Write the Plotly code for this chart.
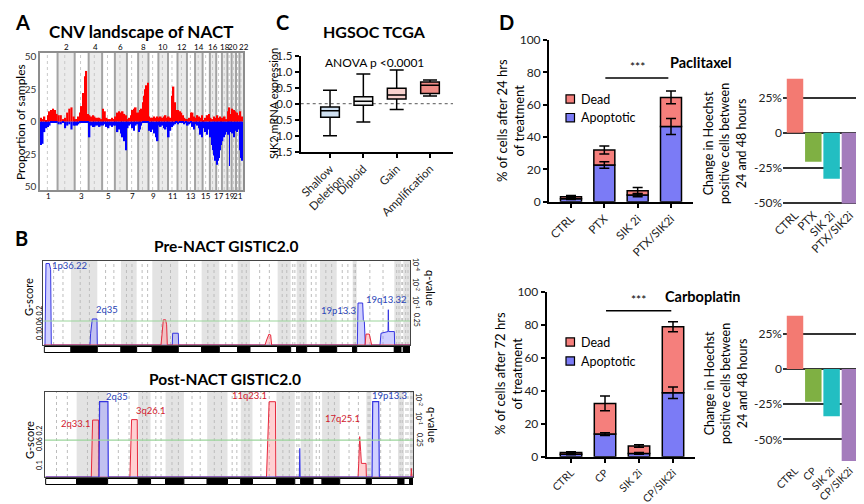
import plotly.graph_objects as go
import numpy as np

# The page body adds an 8px margin, so the figure is 856x496 and every
# reference pixel position is mapped through that offset.
OFF = 8
W, H = 864 - OFF, 504 - OFF
FONT = "Lato, Open Sans, sans-serif"


def fx(x):
    return (x - OFF) / W


def fy(y):
    return 1 - (y - OFF) / H


def xd(a, b):
    return [fx(a), fx(b)]


def yd(top, bot):
    return [fy(bot), fy(top)]


# ---------------- Panel A data: CNV landscape ----------------
chrom_names = [str(i) for i in range(1, 23)]
chrom_len_mb = [249, 243, 198, 191, 181, 171, 159, 146, 141, 136, 135, 134,
                115, 107, 103, 90, 81, 78, 59, 63, 48, 51]
cnv_gain = [
    [3, 2, 4, 1, 5, 8, 9, 10, 9, 6],
    [5, 5, 2, 3, 7, 10, 11, 4],
    [2, 2, 4, 7, 12, 22, 35, 39, 6],
    [5, 4, 5, 4, 3, 3, 3, 2],
    [10, 8, 3, 2, 2, 3, 2],
    [4, 7, 8, 7, 8, 6, 5],
    [2, 3, 5, 9, 10, 11, 7],
    [7, 9, 10, 15, 20, 25, 28, 30],
    [4, 3, 3, 4, 3, 4],
    [3, 4, 3, 4, 5, 3],
    [4, 3, 20, 27, 15, 9],
    [9, 8, 7, 5, 3, 2],
    [2, 3, 7, 7, 4],
    [3, 5, 4, 3, 5],
    [1, 3, 5, 6],
    [3, 2, 4, 3],
    [5, 3, 4, 2],
    [3, 4, 2],
    [8, 11, 6],
    [10, 9, 8],
    [7, 5],
    [8, 4],
]
cnv_loss = [
    [18, 17, 8, 5, 4, 3, 1, 0.5, 0.5, 0.5],
    [2, 2, 0.5, 5, 3, 2, 6, 3],
    [3, 3, 2, 1, 0.5, 0.5, 0.5, 0.5, 0.5],
    [12, 3, 4, 4, 3, 3, 4, 3],
    [3, 2, 4, 5, 3, 4, 3],
    [3, 8, 6, 9, 12, 15, 22],
    [5, 3, 2, 5, 7, 3, 2],
    [8, 6, 3, 1, 0.5, 0.5, 0.5, 0.5],
    [7, 8, 6, 9, 12, 15],
    [3, 4, 3, 5, 6, 4],
    [12, 7, 4, 3, 2, 1],
    [2, 1, 1, 1, 2, 1],
    [3, 2, 1, 4, 6],
    [2, 3, 5, 10, 12],
    [5, 8, 10, 6],
    [12, 18, 22, 26, 30],
    [33, 30, 28, 22, 18],
    [15, 12, 10, 8],
    [10, 8, 34, 6, 8],
    [9, 12, 7],
    [8, 6],
    [22, 28, 30],
]
cnv_ticks = [50, 25, 0, 25, 50]

# ---------------- Panel B data: GISTIC profiles ----------------
pre_chrom_width = [80, 79, 71, 47, 47, 78, 70, 53, 55, 37, 83, 39, 18, 30, 40, 50, 48, 12, 113, 20, 7, 20]
post_chrom_width = [93, 93, 92, 37, 45, 55, 70, 61, 40, 35, 72, 55, 18, 37, 27, 53, 80, 15, 80, 18, 17, 10]

pre_amp_x = [0, 350, 353, 357, 364, 367, 369, 662, 667, 674, 679, 682, 962, 965, 975, 979, 982, 1097]
pre_amp_g = [0, 0, .12, .3, .3, .24, 0, 0, .06, .13, .12, 0, 0, .13, .13, .04, 0, 0]
pre_del_x = [0, 2, 5, 15, 19, 21, 137, 139, 144, 158, 159, 384, 385, 402, 403,
             939, 941, 955, 957, 960, 963, 1007, 1010, 1029, 1031, 1032, 1033, 1050, 1051, 1097]
pre_del_g = [0, 0, .97, .97, .9, 0, 0, .14, .31, .31, 0, 0, .14, .14, 0,
             0, .5, .5, .3, .28, 0, 0, .14, .16, .16, .42, .16, .16, 0, 0]
post_amp_x = [0, 137, 141, 159, 160, 253, 258, 275, 276, 663, 671, 690, 691,
              938, 940, 941, 943, 946, 948, 962, 963, 1097, 1098, 1100, 1103]
post_amp_g = [0, 0, .67, .67, 0, 0, .675, .675, 0, 0, .886, .886, 0,
              0, .16, .3, .475, .3, .16, .16, 0, 0, .1, 0, 0]
post_del_x = [0, 160, 162, 187, 188, 762, 763, 764, 980, 982, 1000, 1002, 1103]
post_del_g = [0, 0, .886, .886, 0, 0, .337, 0, 0, .886, .886, 0, 0]
pre_qthresh = 0.286
post_qthresh = 0.435

pre_peak_labels = ["1p36.22", "2q35", "19p13.3", "19q13.32"]
pre_peak_kind = ["del", "del", "del", "del"]
pre_peak_lx = [77, 188, 884, 1025]
pre_peak_ly = [0.944, 0.417, 0.408, 0.544]
post_peak_labels = ["2q33.1", "2q35", "3q26.1", "11q23.1", "17q25.1", "19p13.3"]
post_peak_kind = ["amp", "del", "amp", "amp", "amp", "del"]
post_peak_lx = [92.5, 214, 316, 611.5, 890.5, 1031.5]
post_peak_ly = [0.624, 0.95, 0.788, 0.96, 0.694, 0.96]

# ---------------- Panel C data: SIK2 expression ----------------
cnv_groups = ["Shallow<br>Deletion", "Diploid", "Gain", "Amplification"]
sik2_lowerfence = [-1.0, -0.57, -0.18, 0.24]
sik2_q1 = [-0.42, -0.05, 0.15, 0.32]
sik2_median = [-0.22, 0.08, 0.27, 0.58]
sik2_q3 = [-0.10, 0.22, 0.48, 0.68]
sik2_upperfence = [0.42, 0.93, 1.05, 0.74]
box_colors = ["#cfe0f1", "#f1f1f1", "#f8d2ce", "#ee8b85"]
sik2_ticks = [-1.5, -1.0, -0.5, 0.0, 0.5, 1.0, 1.5]
sik2_ticktext = ["-1.5", "-1.0", "-0.5", "0.0", "0.5", "1.0", "1.5"]

# ---------------- Panel D data ----------------
ptx_groups = ["CTRL", "PTX", "SIK 2i", "PTX/SIK2i"]
ptx_apoptotic = [1.8, 22.7, 4.1, 46.5]
ptx_apoptotic_err = [0.5, 2.0, 1.0, 5.0]
ptx_dead = [1.3, 9.3, 2.7, 18.0]
ptx_total_err = [0.7, 2.5, 2.0, 4.0]
ptx_change = [38.5, -20.7, -32.9, -50.5]

cp_groups = ["CTRL", "CP", "SIK 2i", "CP/SIK2i"]
cp_apoptotic = [1.5, 13.7, 2.0, 38.8]
cp_apoptotic_err = [0.3, 0.8, 0.5, 3.5]
cp_dead = [1.0, 18.6, 4.5, 40.0]
cp_total_err = [0.5, 4.5, 0.8, 3.0]
cp_change = [38.0, -23.3, -33.6, -65.5]

change_colors = ["#f37a72", "#7fb043", "#22bec2", "#a47cbc"]
change_ticks = [-50, -25, 0, 25]
change_ticktext = ["-50%", "-25%", "0", "25%"]
col_dead = "#f57f7c"
col_apop = "#7b7bf6"

fig = go.Figure()
shapes = []
annotations = []


def ann(text, x, y, size=12, color="black", bold=False, angle=0, xanchor="center",
        yanchor="middle", xref="paper", yref="paper", align="center", xshift=0):
    if bold:
        text = "<b>" + text + "</b>"
    annotations.append(dict(text=text, x=x, y=y, xref=xref, yref=yref, showarrow=False,
                            font=dict(size=size, color=color, family=FONT), textangle=angle,
                            xanchor=xanchor, yanchor=yanchor, align=align, xshift=xshift))


# ================= Panel A =================
starts = np.concatenate([[0], np.cumsum(chrom_len_mb)[:-1]])
total_mb = float(np.sum(chrom_len_mb))
for i, (s, L) in enumerate(zip(starts, chrom_len_mb)):
    if i % 2 == 1:
        shapes.append(dict(type="rect", xref="x", yref="y domain", x0=s, x1=s + L, y0=0, y1=1,
                           fillcolor="#ebebeb", line=dict(width=0), layer="below"))
    shapes.append(dict(type="line", xref="x", yref="y domain", x0=s + L * 0.42, x1=s + L * 0.42,
                       y0=0, y1=1, line=dict(color="#c9c9c9", width=1, dash="dot"), layer="below"))
    if i > 0:
        shapes.append(dict(type="line", xref="x", yref="y domain", x0=s, x1=s, y0=0, y1=1,
                           line=dict(color="#a3a3a3", width=2), layer="below"))

gx, gy, gw, lx, ly, lw = [], [], [], [], [], []
for s, L, gv, lv in zip(starts, chrom_len_mb, cnv_gain, cnv_loss):
    w = L / len(gv)
    for k, v in enumerate(gv):
        gx.append(s + (k + 0.5) * w)
        gy.append(v)
        gw.append(w)
    w = L / len(lv)
    for k, v in enumerate(lv):
        lx.append(s + (k + 0.5) * w)
        ly.append(-v)
        lw.append(w)
fig.add_trace(go.Bar(x=gx, y=gy, width=gw, marker=dict(color="#ff0000", line=dict(width=0)),
                     xaxis="x", yaxis="y", showlegend=False))
fig.add_trace(go.Bar(x=lx, y=ly, width=lw, marker=dict(color="#0000ff", line=dict(width=0)),
                     xaxis="x", yaxis="y", showlegend=False))

for i, (s, L) in enumerate(zip(starts, chrom_len_mb)):
    shift = 2.5 if i == len(chrom_len_mb) - 1 else (-1 if i == len(chrom_len_mb) - 3 else 0)
    if i % 2 == 1:
        ann(chrom_names[i], s + L / 2, fy(47.5), size=8, xref="x", xshift=shift)
    else:
        ann(chrom_names[i], s + L / 2, fy(196), size=8, xref="x")

ann("CNV landscape of NACT", fx(141), fy(32), size=17, bold=True)
ann("Proportion of samples", fx(20), fy(122), size=12, angle=-90)

# ================= Panel B =================
def gistic_decor(xname, yname, widths, band_top, band_bot, qthresh):
    cum = np.concatenate([[0], np.cumsum(widths)])
    for i in range(len(widths)):
        x0, x1 = cum[i], cum[i + 1]
        if i % 2 == 1:
            shapes.append(dict(type="rect", xref=xname, yref=yname + " domain", x0=x0, x1=x1, y0=0, y1=1,
                               fillcolor="#e3e3e3", line=dict(width=0), layer="below"))
        for frac in (0.35, 0.7):
            xm = x0 + (x1 - x0) * frac
            shapes.append(dict(type="line", xref=xname, yref=yname + " domain", x0=xm, x1=xm, y0=0, y1=1,
                               line=dict(color="#bdbdbd", width=1, dash="dot"), layer="below"))
        shapes.append(dict(type="rect", xref=xname, yref="paper", x0=x0, x1=x1,
                           y0=fy(band_bot), y1=fy(band_top),
                           fillcolor="black" if i % 2 == 1 else "white",
                           line=dict(color="black", width=1)))
    shapes.append(dict(type="line", xref=xname + " domain", yref=yname, x0=0, x1=1, y0=qthresh, y1=qthresh,
                       line=dict(color="#9bd59b", width=1.2)))


gistic_decor("x2", "y2", pre_chrom_width, 346.5, 352.5, pre_qthresh)
gistic_decor("x3", "y3", post_chrom_width, 478.5, 484.5, post_qthresh)

amp_line, amp_fill = "#e6283c", "rgba(255,150,155,0.45)"
del_line, del_fill = "#3535e0", "rgba(150,150,255,0.45)"

fig.add_trace(go.Scatter(x=pre_del_x, y=pre_del_g, mode="lines", fill="tozeroy", line=dict(color=del_line, width=1),
                         fillcolor=del_fill, xaxis="x2", yaxis="y2", showlegend=False))
fig.add_trace(go.Scatter(x=pre_amp_x, y=pre_amp_g, mode="lines", fill="tozeroy", line=dict(color=amp_line, width=1),
                         fillcolor=amp_fill, xaxis="x2", yaxis="y2", showlegend=False))
fig.add_trace(go.Scatter(x=post_amp_x, y=post_amp_g, mode="lines", fill="tozeroy", line=dict(color=amp_line, width=1),
                         fillcolor=amp_fill, xaxis="x3", yaxis="y3", showlegend=False))
fig.add_trace(go.Scatter(x=post_del_x, y=post_del_g, mode="lines", fill="tozeroy", line=dict(color=del_line, width=1.2),
                         fillcolor=del_fill, xaxis="x3", yaxis="y3", showlegend=False))

lab_col = {"amp": "#d2202e", "del": "#2a45b8"}
for t, k, x, y in zip(pre_peak_labels, pre_peak_kind, pre_peak_lx, pre_peak_ly):
    ann(t, x, y, size=9.5, color=lab_col[k], xref="x2", yref="y2")
for t, k, x, y in zip(post_peak_labels, post_peak_kind, post_peak_lx, post_peak_ly):
    ann(t, x, y, size=9.5, color=lab_col[k], xref="x3", yref="y3")

ann("Pre-NACT GISTIC2.0", fx(226), fy(246), size=15.5, bold=True)
ann("Post-NACT GISTIC2.0", fx(225), fy(379), size=15.5, bold=True)
ann("G-score", fx(28), fy(297), size=11, angle=-90)
ann("G-score", fx(29), fy(440), size=11, angle=-90)
ann("0.06 0.2", fx(39), fy(318), size=7, angle=-90)
ann("0.1", fx(39), fy(335), size=7, angle=-90)
ann("0.06 0.2", fx(39), fy(438), size=7, angle=-90)
ann("0.1", fx(39), fy(465), size=7, angle=-90)
ann("q-value", fx(431), fy(288), size=11, angle=90)
ann("q-value", fx(433), fy(425), size=11, angle=90)
for yy, tt in ((264, "10<sup>-4</sup>"), (284, "10<sup>-2</sup>"), (302, "10<sup>-1</sup>"), (320, "0.25")):
    ann(tt, fx(417), fy(yy), size=7, angle=90)
for yy, tt in ((399, "10<sup>-2</sup>"), (418, "10<sup>-1</sup>"), (440, "0.25")):
    ann(tt, fx(420), fy(yy), size=7, angle=90)

# ================= Panel C =================
for i in range(4):
    fig.add_trace(go.Box(x=[i], q1=[sik2_q1[i]], median=[sik2_median[i]], q3=[sik2_q3[i]],
                         lowerfence=[sik2_lowerfence[i]], upperfence=[sik2_upperfence[i]],
                         fillcolor=box_colors[i], line=dict(color="black", width=1.5),
                         width=0.56, whiskerwidth=0.75, boxpoints=False,
                         xaxis="x4", yaxis="y4", showlegend=False, hoverinfo="skip"))
shapes.append(dict(type="line", xref="x4 domain", yref="y4", x0=0, x1=1, y0=0, y1=0,
                   line=dict(color="#777777", width=1.2, dash="dot"), layer="below"))
ann("HGSOC TCGA", fx(374), fy(32), size=16, bold=True)
ann("ANOVA p &lt;0.0001", fx(374), fy(62), size=12)
ann("SIK2 mRNA expression", fx(273), fy(104), size=11, angle=-90)

# ================= Panel D =================
def stacked(xname, yname, apop, apop_err, dead, tot_err):
    xs = list(range(len(apop)))
    fig.add_trace(go.Bar(x=xs, y=apop, width=0.63, marker=dict(color=col_apop, line=dict(color="black", width=1.5)),
                         xaxis=xname, yaxis=yname, showlegend=False))
    fig.add_trace(go.Bar(x=xs, y=dead, width=0.63, marker=dict(color=col_dead, line=dict(color="black", width=1.5)),
                         xaxis=xname, yaxis=yname, showlegend=False))
    tots = [a + d for a, d in zip(apop, dead)]
    fig.add_trace(go.Scatter(x=xs, y=apop, mode="markers", marker=dict(size=1, color="rgba(0,0,0,0)"),
                             error_y=dict(type="data", array=apop_err, color="black", thickness=1.5, width=5),
                             xaxis=xname, yaxis=yname, showlegend=False, hoverinfo="skip"))
    fig.add_trace(go.Scatter(x=xs, y=tots, mode="markers", marker=dict(size=1, color="rgba(0,0,0,0)"),
                             error_y=dict(type="data", array=tot_err, color="black", thickness=1.5, width=5),
                             xaxis=xname, yaxis=yname, showlegend=False, hoverinfo="skip"))


stacked("x5", "y5", ptx_apoptotic, ptx_apoptotic_err, ptx_dead, ptx_total_err)
stacked("x7", "y7", cp_apoptotic, cp_apoptotic_err, cp_dead, cp_total_err)

fig.add_trace(go.Bar(x=list(range(4)), y=ptx_change, width=0.9, marker=dict(color=change_colors, line=dict(width=0)),
                     xaxis="x6", yaxis="y6", showlegend=False))
fig.add_trace(go.Bar(x=list(range(4)), y=cp_change, width=0.9, marker=dict(color=change_colors, line=dict(width=0)),
                     xaxis="x8", yaxis="y8", showlegend=False))

# significance brackets
shapes.append(dict(type="line", xref="x5", yref="y5", x0=1.03, x1=2.92, y0=76.5, y1=76.5,
                   line=dict(color="black", width=1.5)))
ann("***", 1.98, 77.5, size=12, xref="x5", yref="y5", yanchor="bottom")
shapes.append(dict(type="line", xref="x7", yref="y7", x0=1.03, x1=2.95, y0=88.5, y1=88.5,
                   line=dict(color="black", width=1.5)))
ann("***", 1.98, 89.3, size=12, xref="x7", yref="y7", yanchor="bottom")

# legends
for (ytxt, col, lab) in ((99, col_dead, "Dead"), (117.7, col_apop, "Apoptotic"),
                         (342, col_dead, "Dead"), (361, col_apop, "Apoptotic")):
    shapes.append(dict(type="rect", xref="paper", yref="paper", x0=fx(566), x1=fx(574.5),
                       y0=fy(ytxt + 4.2), y1=fy(ytxt - 4.2), fillcolor=col, line=dict(color="black", width=1.2)))
    ann(lab, fx(578.5), fy(ytxt), size=12.5, xanchor="left")

ann("Paclitaxel", fx(701), fy(62), size=14.5, bold=True)
ann("Carboplatin", fx(703), fy(296), size=14.5, bold=True)
ann("% of cells after 24 hrs<br>of treatment", fx(511), fy(121), size=13, angle=-90)
ann("% of cells after 72 hrs<br>of treatment", fx(508), fy(374), size=13, angle=-90)
ann("Change in Hoechst<br>positive cells between<br>24 and 48 hours", fx(725), fy(144), size=12.5, angle=-90)
ann("Change in Hoechst<br>positive cells between<br>24 and 48 hours", fx(726), fy(384), size=12.5, angle=-90)

# panel letters (kept fully inside the figure area)
ann("A", fx(13), fy(8.5), size=20, bold=True, xanchor="left", yanchor="top")
ann("B", fx(13), fy(238), size=20, bold=True, xanchor="left")
ann("C", fx(282), fy(8.5), size=20, bold=True, yanchor="top")
ann("D", fx(506), fy(8.5), size=20, bold=True, yanchor="top")

# ================= Layout =================
tickf = dict(size=12, color="#222222", family=FONT)
tickf_small = dict(size=11.5, color="#222222", family=FONT)
tickf_bottom = dict(size=10.5, color="#222222", family=FONT)
blackaxis = dict(showline=True, linecolor="black", linewidth=2, ticks="outside", tickcolor="black",
                 tickwidth=2, ticklen=4, showgrid=False, zeroline=False, automargin=False)
frame_b = dict(showline=True, mirror=True, linecolor="#444444", linewidth=1, showgrid=False,
               zeroline=False, showticklabels=False, ticks="", automargin=False)

layout = dict(
    template="none",
    width=W, height=H, margin=dict(l=0, r=0, t=0, b=0, pad=0, autoexpand=False),
    paper_bgcolor="white", plot_bgcolor="white", barmode="relative",
    font=dict(family=FONT, color="black"), showlegend=False,
    xaxis=dict(domain=xd(40, 243), range=[0, total_mb], showgrid=False, zeroline=False,
               showticklabels=False, showline=True, mirror=True, linecolor="#8d8d8d", linewidth=1.5,
               anchor="y", automargin=False),
    yaxis=dict(domain=yd(53, 190), range=[-52.5, 52.8], tickvals=[50, 25, 0, -25, -50],
               ticktext=[str(v) for v in cnv_ticks], showgrid=False, zeroline=False, showline=True,
               mirror=True, linecolor="#8d8d8d", linewidth=1.5, ticks="",
               tickfont=dict(size=10, color="#333333"), anchor="x", automargin=False),
    xaxis2=dict(domain=xd(43.3, 410), range=[-3, 1097], anchor="y2", **frame_b),
    yaxis2=dict(domain=yd(261, 345), range=[0, 1], anchor="x2", **frame_b),
    xaxis3=dict(domain=xd(45, 413), range=[-2, 1103], anchor="y3", **frame_b),
    yaxis3=dict(domain=yd(392, 477), range=[0, 1], anchor="x3", **frame_b),
    xaxis4=dict(domain=xd(300.7, 453), range=[-0.88, 3.69], anchor="y4", tickvals=[0, 1, 2, 3],
                ticktext=cnv_groups, tickangle=-45, tickfont=tickf_small, **blackaxis),
    yaxis4=dict(domain=yd(55.7, 151.7), range=[-1.5, 1.5], anchor="x4", tickvals=sik2_ticks,
                ticktext=sik2_ticktext, tickfont=dict(size=11.5, color="#222222", family=FONT),
                **blackaxis),
    xaxis5=dict(domain=xd(549, 693), range=[-0.66, 3.66], anchor="y5", tickvals=[0, 1, 2, 3],
                ticktext=ptx_groups, tickangle=-45, tickfont=tickf_small, **blackaxis),
    yaxis5=dict(domain=yd(40, 201.7), range=[0, 100], anchor="x5", dtick=20, tickfont=tickf, **blackaxis),
    xaxis7=dict(domain=xd(546.7, 695), range=[-0.715, 3.647], anchor="y7", tickvals=[0, 1, 2, 3],
                ticktext=cp_groups, tickangle=-45, tickfont=tickf_bottom, **blackaxis),
    yaxis7=dict(domain=yd(291.7, 456.7), range=[0, 100], anchor="x7", dtick=20, tickfont=tickf, **blackaxis),
    xaxis6=dict(domain=xd(783, 862), range=[-0.656, 3.66], anchor="y6", tickvals=[0, 1, 2, 3],
                ticktext=ptx_groups, tickangle=-45, showline=False, showgrid=False, zeroline=False,
                ticks="", tickfont=tickf_small, automargin=False),
    yaxis6=dict(domain=yd(76.7, 205.5), range=[-52, 40], anchor="x6", tickvals=change_ticks,
                ticktext=change_ticktext, showgrid=True, gridcolor="#333333", gridwidth=1.5,
                zeroline=True, zerolinecolor="#333333", zerolinewidth=1.5, showline=False,
                ticks="", tickfont=tickf, automargin=False),
    xaxis8=dict(domain=xd(783, 862), range=[-0.656, 3.66], anchor="y8", tickvals=[0, 1, 2, 3],
                ticktext=cp_groups, tickangle=-45, showline=False, showgrid=False, zeroline=False,
                ticks="", tickfont=tickf_bottom, automargin=False),
    yaxis8=dict(domain=yd(312.9, 461.8), range=[-66, 40], anchor="x8", tickvals=change_ticks,
                ticktext=change_ticktext, showgrid=True, gridcolor="#333333", gridwidth=1.5,
                zeroline=True, zerolinecolor="#333333", zerolinewidth=1.5, showline=False,
                ticks="", tickfont=tickf, automargin=False),
    shapes=shapes, annotations=annotations,
)
fig.update_layout(**layout)
fig.write_html("out.html")
